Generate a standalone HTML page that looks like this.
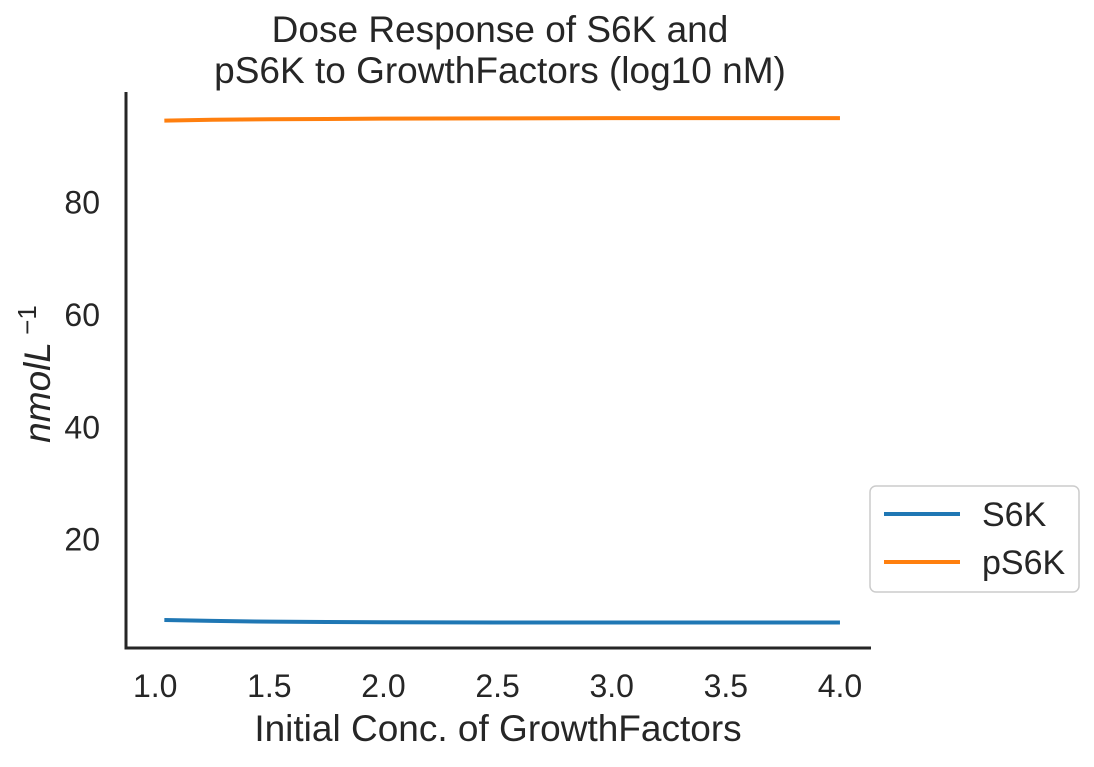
<!DOCTYPE html>
<html><head><meta charset="utf-8"><style>
body{margin:0;background:#fff;font-family:"Liberation Sans",sans-serif;}
svg text{font-family:"Liberation Sans",sans-serif;fill:#262626;}
</style></head><body>
<svg id="chart" width="1094" height="762">
<text x="500" y="42" font-size="37" text-anchor="middle">Dose Response of S6K and</text>
<text x="500" y="83" font-size="37" text-anchor="middle">pS6K to GrowthFactors (log10 nM)</text>
<g id="axes"></g>
<g id="lines"></g>
<text x="498" y="741" font-size="37" text-anchor="middle">Initial Conc. of GrowthFactors</text>
<text transform="translate(50,374) rotate(-90)" font-size="37" text-anchor="middle" font-style="italic">nmolL<tspan font-style="normal" dy="-14" font-size="26"> −1</tspan></text>
<g>
<rect x="870" y="486" width="209" height="106" rx="6" fill="#fff" stroke="#ccc" stroke-width="1.5"/>
<line x1="884" y1="514" x2="960" y2="514" stroke="#1f77b4" stroke-width="4"/>
<text x="982" y="526" font-size="34">S6K</text>
<line x1="884" y1="562" x2="960" y2="562" stroke="#ff7f0e" stroke-width="4"/>
<text x="982" y="574" font-size="34">pS6K</text>
</g>
</svg>
<script>
const xValues=[1.04,1.25,1.5,1.75,2.0,2.5,3.0,3.5,4.0];
const s6kValues=[5.7,5.55,5.4,5.35,5.3,5.25,5.25,5.25,5.25];
const ps6kValues=[94.6,94.75,94.85,94.9,94.95,95.0,95.05,95.05,95.05];
const xTicks=[1.0,1.5,2.0,2.5,3.0,3.5,4.0];
const yTicks=[20,40,60,80];
const L=126,R=871,T=92,B=648;
const x=v=>L+(v-0.872)/(4.136-0.872)*(R-L);
const y=v=>652-v*5.617;
const ns="http://www.w3.org/2000/svg";
const axes=document.getElementById('axes'),lines=document.getElementById('lines');
function mk(t,a,p){const e=document.createElementNS(ns,t);for(const k in a)e.setAttribute(k,a[k]);p.appendChild(e);return e;}
const ya=mk('line',{x1:L,y1:T,x2:L,y2:B,stroke:'#262626','stroke-width':3},axes);


const xa=mk('line',{x1:L-1.5,y1:B,x2:R,y2:B,stroke:'#262626','stroke-width':3},axes);


xTicks.forEach(v=>{const t=mk('text',{x:x(v),y:697,'font-size':32,'text-anchor':'middle'},axes);t.textContent=v.toFixed(1);

});
yTicks.forEach(v=>{const t=mk('text',{x:100,y:y(v)+11,'font-size':32,'text-anchor':'end'},axes);t.textContent=v;

});
function path(vals,c,n){const d=vals.map((v,i)=>(i?'L':'M')+x(xValues[i])+' '+y(v)).join(' ');
const p=mk('path',{d:d,fill:'none',stroke:c,'stroke-width':4},lines);

}
path(s6kValues,'#1f77b4','line-s6k');
path(ps6kValues,'#ff7f0e','line-ps6k');
</script>
</body></html>
